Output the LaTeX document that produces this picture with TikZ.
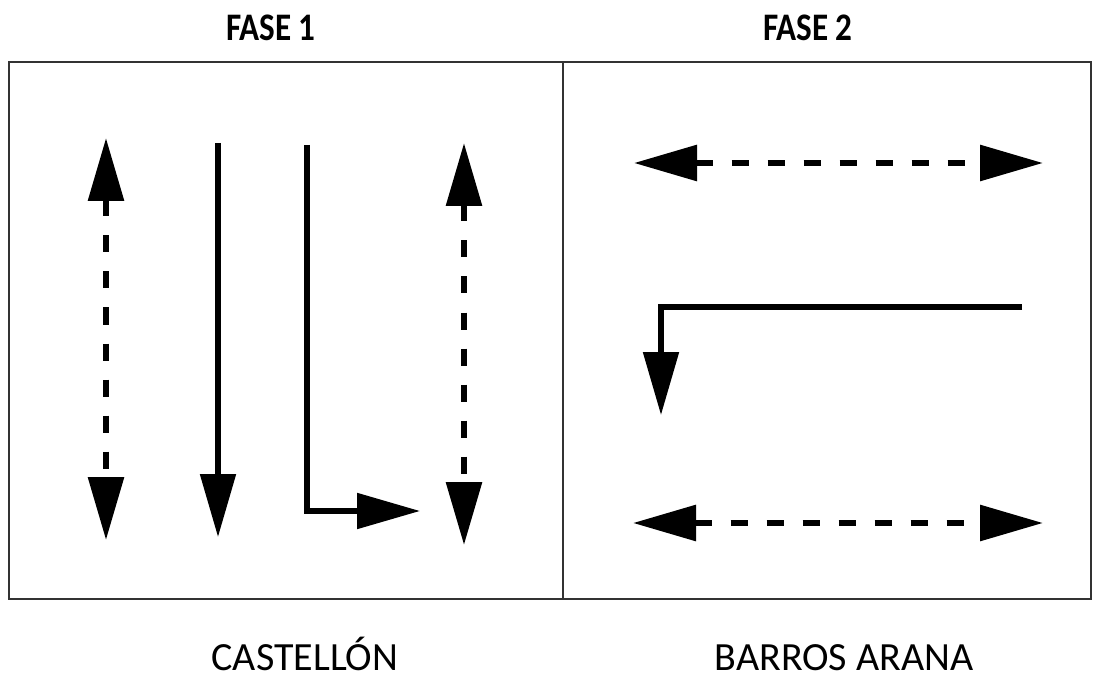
\documentclass[tikz,border=0pt]{standalone}
\usepackage{fontspec}
\setmainfont{Carlito}
\usetikzlibrary{arrows.meta}
\begin{document}
\begin{tikzpicture}[x=1pt,y=-1pt,
  frame/.style={draw=black!80,line width=1.8pt},
  head/.style={-{Triangle[length=63pt,width=35pt]}},
  twohead/.style={{Triangle[length=63pt,width=35pt]}-{Triangle[length=63pt,width=35pt]}},
  solidline/.style={line width=5.2pt},
  dashline/.style={line width=6pt,dash pattern=on 17pt off 19pt},
  phase/.style={font=\fontsize{39}{40}\selectfont\bfseries,xscale=0.85,anchor=base,inner sep=0pt},
  street/.style={font=\fontsize{40}{41}\selectfont,anchor=base,inner sep=0pt}]
\useasboundingbox[fill=white] (0,0) rectangle (1093,679);

% panels
\draw[frame] (9,62) rectangle (1091,599);
\coordinate (divtop) at (563,62);
\coordinate (divbot) at (563,599);
\draw[draw=black!80,line width=1.5pt] (divtop) -- (divbot);

% titles
\node[phase] (f1) at (271,41) {FASE 1};
\node[phase] (f2) at (808,41) {FASE 2};
\node[street] (c1) at (305,670) {CASTELLÓN};
\node[street] (c2) at (844,670) {BARROS ARANA};

% phase 1 movements
\coordinate (a1t) at (106,138);
\coordinate (a1b) at (106,540);
\draw[twohead,dashline] (a1t) -- (a1b);

\coordinate (a2t) at (218,143);
\coordinate (a2b) at (218,537);
\draw[head,solidline] (a2t) -- (a2b);

\coordinate (a3t) at (307,145);
\coordinate (a3c) at (307,511);
\coordinate (a3e) at (420,511);
\draw[head,solidline] (a3t) -- (a3c) -- (a3e);

\coordinate (a4t) at (464,143);
\coordinate (a4b) at (464,545);
\draw[twohead,dashline] (a4t) -- (a4b);

% phase 2 movements
\coordinate (b1l) at (634,163);
\coordinate (b1r) at (1043,163);
\draw[twohead,dashline] (b1l) -- (b1r);

\coordinate (b2s) at (1022,307);
\coordinate (b2c) at (661,307);
\coordinate (b2e) at (661,415);
\draw[head,solidline] (b2s) -- (b2c) -- (b2e);

\coordinate (b3l) at (633,523);
\coordinate (b3r) at (1043,523);
\draw[twohead,dashline] (b3l) -- (b3r);
\end{tikzpicture}
\end{document}
